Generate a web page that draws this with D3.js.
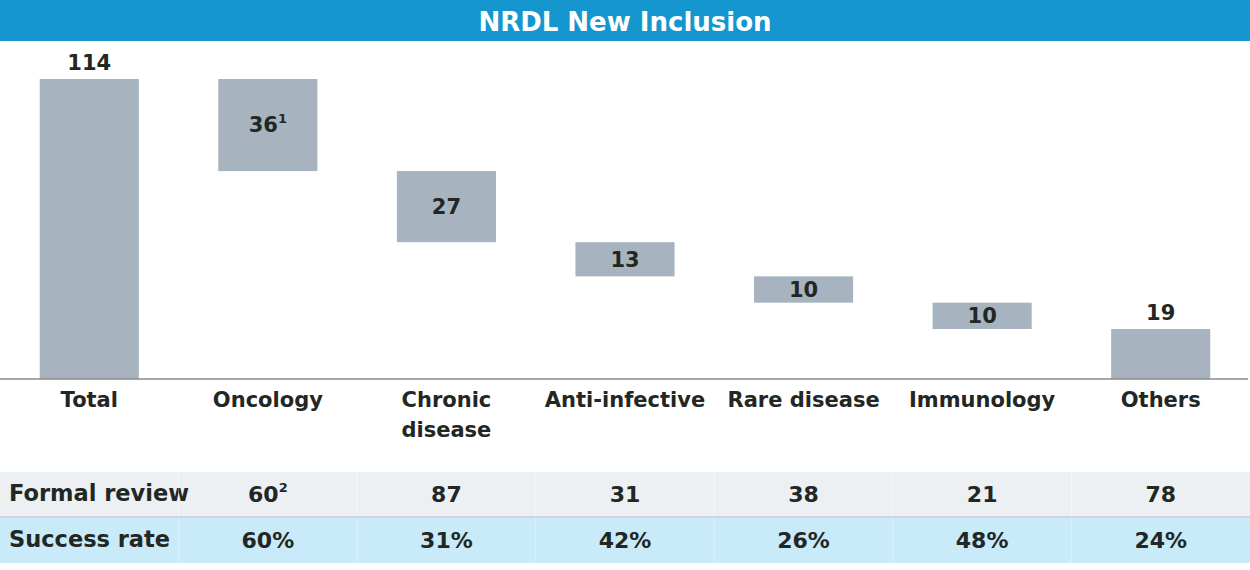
<!DOCTYPE html>
<html>
<head>
<meta charset="utf-8">
<script src="https://cdn.jsdelivr.net/npm/d3@7"></script>
<style>
  html, body { margin: 0; padding: 0; background: #fff; }
  svg { display: block; font-family: "DejaVu Sans", Inter, sans-serif; }
</style>
</head>
<body>
<div id="chart"></div>
<script>
// ==============================
// DATOS
// ==============================
const categorias = ["Total", "Oncology", "Chronic disease", "Anti-infective", "Rare disease", "Immunology", "Others"];
const etiquetasEje = [["Total"], ["Oncology"], ["Chronic", "disease"], ["Anti-infective"], ["Rare disease"], ["Immunology"], ["Others"]];
const valores = [114, 36, 27, 13, 10, 10, 19];
const superindices = ["", "1", "", "", "", "", ""];
const revisionFormal = ["60", "87", "31", "38", "21", "78"];
const revisionSup = ["2", "", "", "", "", ""];
const tasaExito = ["60%", "31%", "42%", "26%", "48%", "24%"];

// ==============================
// CONFIG
// ==============================
const W = 1250, H = 570;
const baseY = 379, topY = 79;
const colorBarra = "#a7b4bf";
const colorTexto = "#222724";
const tamTexto = 21;

const svg = d3.select("#chart").append("svg")
  .attr("width", W).attr("height", H);

// barra de título
svg.append("rect").attr("x", 0).attr("y", 0).attr("width", W).attr("height", 41)
  .attr("fill", "#1596ce");
svg.append("text").attr("x", W / 2).attr("y", 22).attr("dy", "0.35em")
  .attr("text-anchor", "middle").attr("fill", "#fff")
  .attr("font-size", 26).attr("font-weight", 700)
  .text("NRDL New Inclusion");

const x = d3.scaleBand().domain(categorias).range([0, W])
  .paddingInner(0.445).paddingOuter(0.2225);
const y = d3.scaleLinear().domain([0, valores[0]]).range([baseY, topY]);

// cascada: se acumula desde abajo (Others) hacia arriba, tope en el total
const barras = [];
barras.push({ cat: categorias[0], y0: 0, y1: valores[0], v: valores[0], sup: superindices[0] });
let acum = 0;
for (let i = categorias.length - 1; i >= 1; i--) {
  const y0 = acum;
  const y1 = Math.min(acum + valores[i], valores[0]);
  barras.push({ cat: categorias[i], y0, y1, v: valores[i], sup: superindices[i] });
  acum += valores[i];
}

svg.append("g").selectAll("rect")
  .data(barras)
  .join("rect")
  .attr("x", d => x(d.cat))
  .attr("width", x.bandwidth())
  .attr("y", d => y(d.y1))
  .attr("height", d => y(d.y0) - y(d.y1))
  .attr("fill", colorBarra);

// línea base
svg.append("line").attr("x1", 0).attr("x2", 1248).attr("y1", baseY).attr("y2", baseY)
  .attr("stroke", "#8a8a8a").attr("stroke-width", 1.5);

// etiquetas de valor
const etiquetas = svg.append("g").attr("fill", colorTexto).attr("font-size", tamTexto).attr("font-weight", 700);
barras.forEach(d => {
  const afuera = d.y0 === 0;
  const cy = afuera ? y(d.y1) - 16 : (y(d.y0) + y(d.y1)) / 2;
  const t = etiquetas.append("text")
    .attr("x", x(d.cat) + x.bandwidth() / 2)
    .attr("y", cy).attr("dy", "0.35em")
    .attr("text-anchor", "middle")
    .text(d.v);
  if (d.sup) {
    t.append("tspan").attr("font-size", 13).attr("dy", "-0.75em").text(d.sup);
  }
});

// eje de categorías
const eje = svg.append("g").attr("fill", colorTexto).attr("font-size", tamTexto).attr("font-weight", 700);
categorias.forEach((c, i) => {
  const t = eje.append("text").attr("x", x(c) + x.bandwidth() / 2).attr("y", 400)
    .attr("text-anchor", "middle");
  etiquetasEje[i].forEach((linea, j) => {
    t.append("tspan").attr("x", x(c) + x.bandwidth() / 2).attr("dy", j === 0 ? "0.35em" : 30).text(linea);
  });
});

// ==============================
// TABLA
// ==============================
const filas = [
  { nombre: "Formal review", valores: revisionFormal, sups: revisionSup, y0: 472, h: 45, fondo: "#edf0f3" },
  { nombre: "Success rate", valores: tasaExito, sups: ["", "", "", "", "", ""], y0: 518, h: 45, fondo: "#c9eaf8" }
];
const tabla = svg.append("g");
filas.forEach(f => {
  tabla.append("rect").attr("x", 0).attr("y", f.y0).attr("width", W).attr("height", f.h).attr("fill", f.fondo);
  tabla.append("text").attr("x", 9).attr("y", f.y0 + f.h / 2 - 1).attr("dy", "0.35em")
    .attr("fill", colorTexto).attr("font-size", 22.5).attr("font-weight", 700).text(f.nombre);
  f.valores.forEach((v, i) => {
    const c = categorias[i + 1];
    const t = tabla.append("text").attr("x", x(c) + x.bandwidth() / 2).attr("y", f.y0 + f.h / 2)
      .attr("dy", "0.35em").attr("text-anchor", "middle")
      .attr("fill", colorTexto).attr("font-size", 22).attr("font-weight", 700).text(v);
    if (f.sups[i]) t.append("tspan").attr("font-size", 13).attr("dy", "-0.75em").text(f.sups[i]);
  });
  // divisores verticales tenues
  categorias.slice(1).forEach(c => {
    const xd = x(c) + x.bandwidth() / 2 - x.step() / 2;
    tabla.append("line").attr("x1", xd).attr("x2", xd).attr("y1", f.y0).attr("y2", f.y0 + f.h)
      .attr("stroke", "#ffffff").attr("stroke-opacity", 0.35).attr("stroke-width", 1);
  });
});
tabla.append("line").attr("x1", 0).attr("x2", W).attr("y1", 517).attr("y2", 517)
  .attr("stroke", "#c3cad1").attr("stroke-width", 1.5);
</script>
</body>
</html>
